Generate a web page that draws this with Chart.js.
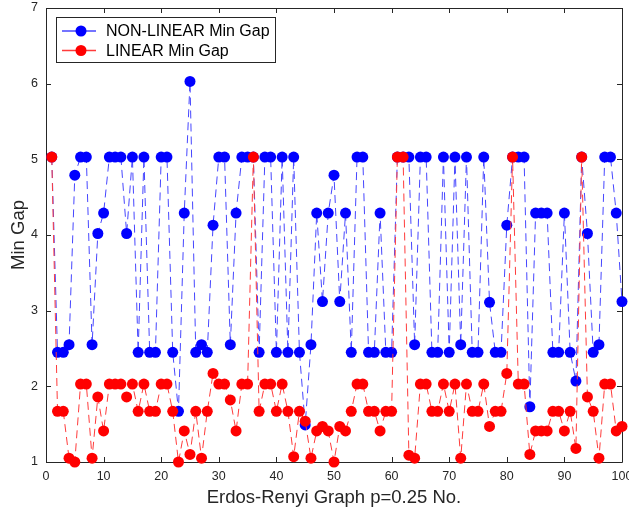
<!DOCTYPE html>
<html>
<head>
    <title>Min Gap - Erdos-Renyi Graphs</title>
    <script src="https://cdn.jsdelivr.net/npm/chart.js"></script>
    <style>
        body { margin: 0; background: #fff; }
        canvas { display: block; }
    </style>
</head>
<body>
    <canvas id="gapChart" width="629" height="514"></canvas>
    <script>
        // values, graph no. 1..100
        const nonLinearGap = [
            5.03, 2.45, 2.45, 2.55, 4.79, 5.03, 5.03, 2.55, 4.02, 4.29,
            5.03, 5.03, 5.03, 4.02, 5.03, 2.45, 5.03, 2.45, 2.45, 5.03,
            5.03, 2.45, 1.67, 4.29, 6.03, 2.45, 2.55, 2.45, 4.13, 5.03,
            5.03, 2.55, 4.29, 5.03, 5.03, 5.03, 2.45, 5.03, 5.03, 2.45,
            5.03, 2.45, 5.03, 2.45, 1.49, 2.55, 4.29, 3.12, 4.29, 4.79,
            3.12, 4.29, 2.45, 5.03, 5.03, 2.45, 2.45, 4.29, 2.45, 2.45,
            5.03, 5.03, 5.03, 2.55, 5.03, 5.03, 2.45, 2.45, 5.03, 2.45,
            5.03, 2.55, 5.03, 2.45, 2.45, 5.03, 3.11, 2.45, 2.45, 4.13,
            5.03, 5.03, 5.03, 1.73, 4.29, 4.29, 4.29, 2.45, 2.45, 4.29,
            2.45, 2.07, 5.03, 4.02, 2.45, 2.55, 5.03, 5.03, 4.29, 3.12
        ];
        const linearGap = [
            5.03, 1.67, 1.67, 1.05, 1.00, 2.03, 2.03, 1.05, 1.86, 1.41,
            2.03, 2.03, 2.03, 1.86, 2.03, 1.67, 2.03, 1.67, 1.67, 2.03,
            2.03, 1.67, 1.00, 1.41, 1.10, 1.67, 1.05, 1.67, 2.17, 2.03,
            2.03, 1.82, 1.41, 2.03, 2.03, 5.03, 1.67, 2.03, 2.03, 1.67,
            2.03, 1.67, 1.07, 1.67, 1.54, 1.05, 1.41, 1.47, 1.41, 1.00,
            1.47, 1.41, 1.67, 2.03, 2.03, 1.67, 1.67, 1.41, 1.67, 1.67,
            5.03, 5.03, 1.09, 1.05, 2.03, 2.03, 1.67, 1.67, 2.03, 1.67,
            2.03, 1.05, 2.03, 1.67, 1.67, 2.03, 1.47, 1.67, 1.67, 2.17,
            5.03, 2.03, 2.03, 1.10, 1.41, 1.41, 1.41, 1.67, 1.67, 1.41,
            1.67, 1.18, 5.03, 1.86, 1.67, 1.05, 2.03, 2.03, 1.41, 1.47
        ];
        const xTicks = [0, 10, 20, 30, 40, 50, 60, 70, 80, 90, 100];
        const yTicks = [1, 2, 3, 4, 5, 6, 7];
        const seriesNames = ['NON-LINEAR Min Gap', 'LINEAR Min Gap'];

        const axisColor = '#262626';
        const fontFamily = '"Liberation Sans", Arial, Helvetica, sans-serif';

        const toPoints = vals => vals.map((v, i) => ({ x: i + 1, y: v }));

        // box round the plot with inward ticks on all four sides
        const frameAndTicks = {
            id: 'frameAndTicks',
            beforeDatasetsDraw(chart) {
                const { ctx, chartArea: a, scales } = chart;
                ctx.save();
                ctx.strokeStyle = axisColor;
                ctx.lineWidth = 1;
                ctx.beginPath();
                ctx.rect(a.left + 0.5, a.top + 0.5, a.right - a.left, a.bottom - a.top);
                const len = 5;
                xTicks.forEach(t => {
                    const px = Math.round(scales.x.getPixelForValue(t)) + 0.5;
                    ctx.moveTo(px, a.bottom); ctx.lineTo(px, a.bottom - len);
                    ctx.moveTo(px, a.top); ctx.lineTo(px, a.top + len);
                });
                yTicks.forEach(t => {
                    const py = Math.round(scales.y.getPixelForValue(t)) + 0.5;
                    ctx.moveTo(a.left, py); ctx.lineTo(a.left + len, py);
                    ctx.moveTo(a.right, py); ctx.lineTo(a.right - len, py);
                });
                ctx.stroke();
                ctx.restore();
            }
        };

        // legend box in the upper left corner of the plot
        const boxLegend = {
            id: 'boxLegend',
            afterDraw(chart) {
                const { ctx, chartArea: a } = chart;
                const x0 = a.left + 10, y0 = a.top + 9;
                const w = 219, h = 45;
                ctx.save();
                ctx.fillStyle = '#fff';
                ctx.fillRect(x0, y0, w, h);
                ctx.strokeStyle = axisColor;
                ctx.lineWidth = 1;
                ctx.strokeRect(x0 + 0.5, y0 + 0.5, w, h);
                ctx.font = '16px ' + fontFamily;
                ctx.textBaseline = 'middle';
                chart.data.datasets.forEach((ds, i) => {
                    const row = chart.data.datasets.length - 1 - i; // blue first
                    const cy = y0 + 14 + row * 19.5;
                    ctx.strokeStyle = ds.borderColor;
                    ctx.lineWidth = 1.5;
                    ctx.beginPath();
                    ctx.moveTo(x0 + 6, cy); ctx.lineTo(x0 + 40, cy);
                    ctx.stroke();
                    ctx.fillStyle = ds.pointBackgroundColor;
                    ctx.beginPath();
                    ctx.arc(x0 + 25, cy, 5.5, 0, Math.PI * 2);
                    ctx.fill();
                    ctx.fillStyle = '#000';
                    ctx.fillText(ds.label, x0 + 50, cy + 1);
                });
                ctx.restore();
            }
        };

        new Chart(document.getElementById('gapChart').getContext('2d'), {
            type: 'line',
            data: {
                datasets: [
                    {
                        // red drawn on top, so it goes first
                        label: seriesNames[1],
                        data: toPoints(linearGap),
                        borderColor: '#ff3b3b',
                        borderWidth: 1,
                        borderDash: [8, 5],
                        pointBackgroundColor: '#ff0000',
                        pointBorderColor: '#ff0000',
                        pointBorderWidth: 0,
                        pointRadius: 5.5,
                        tension: 0,
                        clip: false
                    },
                    {
                        label: seriesNames[0],
                        data: toPoints(nonLinearGap),
                        borderColor: '#4646ff',
                        borderWidth: 1,
                        borderDash: [8, 5],
                        pointBackgroundColor: '#0000ff',
                        pointBorderColor: '#0000ff',
                        pointBorderWidth: 0,
                        pointRadius: 5.5,
                        tension: 0,
                        clip: false
                    }
                ]
            },
            options: {
                responsive: false,
                animation: false,
                devicePixelRatio: 1,
                layout: { padding: { left: 0, right: 7, top: 8, bottom: 0 } },
                plugins: {
                    legend: { display: false },
                    tooltip: { enabled: false }
                },
                scales: {
                    x: {
                        type: 'linear',
                        min: 0,
                        max: 100,
                        afterBuildTicks(scale) { scale.ticks = xTicks.map(v => ({ value: v })); },
                        afterFit(scale) { scale.height = 52; scale.paddingRight = 0; scale.paddingLeft = 0; },
                        grid: { display: false, drawTicks: false },
                        border: { display: false },
                        ticks: {
                            color: axisColor,
                            padding: 7,
                            maxRotation: 0,
                            autoSkip: false,
                            font: { family: fontFamily, size: 12.5 }
                        },
                        title: {
                            display: true,
                            text: 'Erdos-Renyi Graph p=0.25 No.',
                            color: axisColor,
                            padding: { top: 0, bottom: 5 },
                            font: { family: fontFamily, size: 18.5 }
                        }
                    },
                    y: {
                        min: 1,
                        max: 7,
                        afterBuildTicks(scale) { scale.ticks = yTicks.map(v => ({ value: v })); },
                        afterFit(scale) { scale.width = 46; scale.paddingTop = 0; scale.paddingBottom = 0; },
                        grid: { display: false, drawTicks: false },
                        border: { display: false },
                        ticks: {
                            color: axisColor,
                            padding: 8,
                            font: { family: fontFamily, size: 12.5 }
                        },
                        title: {
                            display: true,
                            text: 'Min Gap',
                            color: axisColor,
                            padding: { top: 8, bottom: 0 },
                            font: { family: fontFamily, size: 18.5 }
                        }
                    }
                }
            },
            plugins: [frameAndTicks, boxLegend]
        });
    </script>
</body>
</html>
